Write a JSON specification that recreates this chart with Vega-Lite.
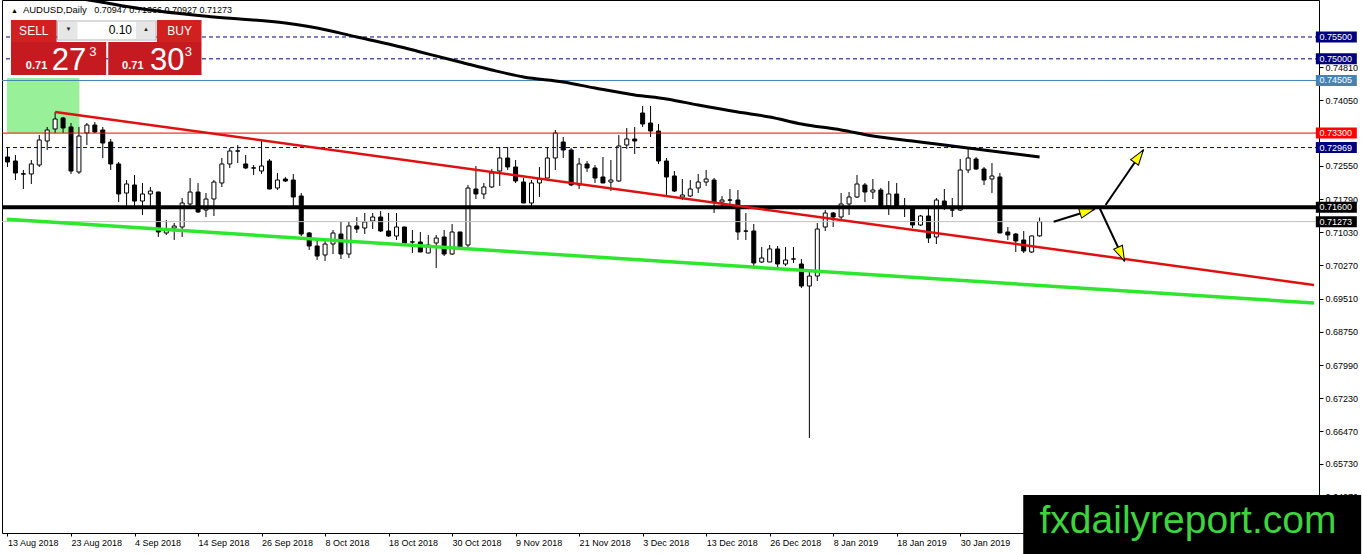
{
"$schema":"https://vega.github.io/schema/vega-lite/v6.json",
"width":1317,"height":533,
"autosize":{"type":"none"},
"padding":{"left":2,"top":0,"right":43,"bottom":21},
"background":"#ffffff",
"config":{"view":{"stroke":"#000000","strokeWidth":1},"font":"Liberation Sans","axis":{"titleOpacity":0,"grid":false}},
"datasets":{
"candles":[
{"i":0,"o":0.72753,"h":0.72982,"l":0.72524,"c":0.72638},
{"i":1,"o":0.72661,"h":0.72799,"l":0.72226,"c":0.72386},
{"i":2,"o":0.72370,"h":0.72455,"l":0.72020,"c":0.72360},
{"i":3,"o":0.72364,"h":0.72684,"l":0.72135,"c":0.72593},
{"i":4,"o":0.72570,"h":0.73256,"l":0.72524,"c":0.73142},
{"i":5,"o":0.73119,"h":0.73440,"l":0.72913,"c":0.73371},
{"i":6,"o":0.73394,"h":0.73783,"l":0.73302,"c":0.73623},
{"i":7,"o":0.73646,"h":0.73669,"l":0.73302,"c":0.73417},
{"i":8,"o":0.73440,"h":0.73531,"l":0.72364,"c":0.72432},
{"i":9,"o":0.72409,"h":0.73440,"l":0.72364,"c":0.73233},
{"i":10,"o":0.73302,"h":0.73531,"l":0.73027,"c":0.73485},
{"i":11,"o":0.73485,"h":0.73554,"l":0.73302,"c":0.73325},
{"i":12,"o":0.73371,"h":0.73440,"l":0.72730,"c":0.73073},
{"i":13,"o":0.73096,"h":0.73165,"l":0.72455,"c":0.72593},
{"i":14,"o":0.72593,"h":0.72638,"l":0.71722,"c":0.71906},
{"i":15,"o":0.71928,"h":0.72226,"l":0.71631,"c":0.72135},
{"i":16,"o":0.72112,"h":0.72341,"l":0.71608,"c":0.71745},
{"i":17,"o":0.71745,"h":0.72158,"l":0.71425,"c":0.71906},
{"i":18,"o":0.71906,"h":0.72066,"l":0.71608,"c":0.71974},
{"i":19,"o":0.71951,"h":0.71960,"l":0.70921,"c":0.71036},
{"i":20,"o":0.71013,"h":0.71310,"l":0.70967,"c":0.71082},
{"i":21,"o":0.71127,"h":0.71242,"l":0.70853,"c":0.71173},
{"i":22,"o":0.71150,"h":0.71814,"l":0.70921,"c":0.71700},
{"i":23,"o":0.71677,"h":0.72272,"l":0.71608,"c":0.71951},
{"i":24,"o":0.71951,"h":0.72158,"l":0.71471,"c":0.71494},
{"i":25,"o":0.71539,"h":0.71928,"l":0.71379,"c":0.71791},
{"i":26,"o":0.71791,"h":0.72226,"l":0.71402,"c":0.72180},
{"i":27,"o":0.72158,"h":0.72730,"l":0.72066,"c":0.72593},
{"i":28,"o":0.72593,"h":0.72959,"l":0.72501,"c":0.72890},
{"i":29,"o":0.72885,"h":0.73027,"l":0.72615,"c":0.72895},
{"i":30,"o":0.72593,"h":0.72799,"l":0.72478,"c":0.72501},
{"i":31,"o":0.72505,"h":0.72570,"l":0.72341,"c":0.72498},
{"i":32,"o":0.72432,"h":0.73142,"l":0.72364,"c":0.72547},
{"i":33,"o":0.72661,"h":0.72707,"l":0.72015,"c":0.72020},
{"i":34,"o":0.72043,"h":0.72387,"l":0.71997,"c":0.72226},
{"i":35,"o":0.72249,"h":0.72295,"l":0.72180,"c":0.72203},
{"i":36,"o":0.72226,"h":0.72364,"l":0.71631,"c":0.71837},
{"i":37,"o":0.71860,"h":0.71928,"l":0.70944,"c":0.70990},
{"i":38,"o":0.71013,"h":0.71036,"l":0.70624,"c":0.70715},
{"i":39,"o":0.70715,"h":0.70876,"l":0.70395,"c":0.70486},
{"i":40,"o":0.70509,"h":0.70853,"l":0.70372,"c":0.70761},
{"i":41,"o":0.70761,"h":0.71082,"l":0.70532,"c":0.71013},
{"i":42,"o":0.70990,"h":0.71265,"l":0.70418,"c":0.70532},
{"i":43,"o":0.70532,"h":0.71265,"l":0.70441,"c":0.71173},
{"i":44,"o":0.71173,"h":0.71379,"l":0.71013,"c":0.71104},
{"i":45,"o":0.71127,"h":0.71471,"l":0.70990,"c":0.71265},
{"i":46,"o":0.71288,"h":0.71471,"l":0.71104,"c":0.71379},
{"i":47,"o":0.71379,"h":0.71517,"l":0.71036,"c":0.71059},
{"i":48,"o":0.71059,"h":0.71471,"l":0.70921,"c":0.70944},
{"i":49,"o":0.70944,"h":0.71471,"l":0.70853,"c":0.71150},
{"i":50,"o":0.71150,"h":0.71155,"l":0.70761,"c":0.70784},
{"i":51,"o":0.70810,"h":0.71082,"l":0.70555,"c":0.70805},
{"i":52,"o":0.70807,"h":0.71036,"l":0.70575,"c":0.70578},
{"i":53,"o":0.70555,"h":0.70967,"l":0.70552,"c":0.70738},
{"i":54,"o":0.70784,"h":0.70967,"l":0.70211,"c":0.70898},
{"i":55,"o":0.70921,"h":0.71082,"l":0.70486,"c":0.70532},
{"i":56,"o":0.70532,"h":0.71219,"l":0.70509,"c":0.71036},
{"i":57,"o":0.71036,"h":0.71040,"l":0.70690,"c":0.70692},
{"i":58,"o":0.70738,"h":0.72112,"l":0.70692,"c":0.72043},
{"i":59,"o":0.72020,"h":0.72547,"l":0.71791,"c":0.71906},
{"i":60,"o":0.71906,"h":0.72158,"l":0.71791,"c":0.72066},
{"i":61,"o":0.72066,"h":0.72478,"l":0.72043,"c":0.72386},
{"i":62,"o":0.72432,"h":0.72982,"l":0.72089,"c":0.72730},
{"i":63,"o":0.72730,"h":0.72982,"l":0.72455,"c":0.72524},
{"i":64,"o":0.72524,"h":0.72684,"l":0.72158,"c":0.72203},
{"i":65,"o":0.72180,"h":0.72272,"l":0.71697,"c":0.71700},
{"i":66,"o":0.71700,"h":0.72226,"l":0.71631,"c":0.72158},
{"i":67,"o":0.72158,"h":0.72524,"l":0.71837,"c":0.72249},
{"i":68,"o":0.72272,"h":0.72959,"l":0.72268,"c":0.72730},
{"i":69,"o":0.72730,"h":0.73371,"l":0.72455,"c":0.73302},
{"i":70,"o":0.73096,"h":0.73211,"l":0.72730,"c":0.72913},
{"i":71,"o":0.72913,"h":0.72959,"l":0.72089,"c":0.72112},
{"i":72,"o":0.72112,"h":0.72730,"l":0.72020,"c":0.72593},
{"i":73,"o":0.72593,"h":0.72661,"l":0.72409,"c":0.72501},
{"i":74,"o":0.72501,"h":0.72570,"l":0.72158,"c":0.72272},
{"i":75,"o":0.72295,"h":0.72753,"l":0.72155,"c":0.72158},
{"i":76,"o":0.72180,"h":0.72684,"l":0.71974,"c":0.72226},
{"i":77,"o":0.72203,"h":0.73256,"l":0.72180,"c":0.73005},
{"i":78,"o":0.73027,"h":0.73417,"l":0.72936,"c":0.73165},
{"i":79,"o":0.73165,"h":0.73440,"l":0.72821,"c":0.73119},
{"i":80,"o":0.73760,"h":0.73920,"l":0.73440,"c":0.73508},
{"i":81,"o":0.73531,"h":0.73920,"l":0.73211,"c":0.73348},
{"i":82,"o":0.73348,"h":0.73508,"l":0.72593,"c":0.72661},
{"i":83,"o":0.72661,"h":0.72730,"l":0.71883,"c":0.72295},
{"i":84,"o":0.72318,"h":0.72432,"l":0.71951,"c":0.71974},
{"i":85,"o":0.71837,"h":0.72249,"l":0.71768,"c":0.71883},
{"i":86,"o":0.71860,"h":0.72226,"l":0.71837,"c":0.72020},
{"i":87,"o":0.72043,"h":0.72364,"l":0.71928,"c":0.72180},
{"i":88,"o":0.72180,"h":0.72455,"l":0.72089,"c":0.72249},
{"i":89,"o":0.72226,"h":0.72272,"l":0.71471,"c":0.71722},
{"i":90,"o":0.71722,"h":0.71860,"l":0.71631,"c":0.71768},
{"i":91,"o":0.71770,"h":0.72020,"l":0.71654,"c":0.71765},
{"i":92,"o":0.71768,"h":0.71997,"l":0.70853,"c":0.71036},
{"i":93,"o":0.71060,"h":0.71471,"l":0.70853,"c":0.71055},
{"i":94,"o":0.71059,"h":0.71219,"l":0.70257,"c":0.70326},
{"i":95,"o":0.70349,"h":0.70692,"l":0.70326,"c":0.70441},
{"i":96,"o":0.70349,"h":0.70738,"l":0.70345,"c":0.70647},
{"i":97,"o":0.70647,"h":0.70715,"l":0.70234,"c":0.70303},
{"i":98,"o":0.70303,"h":0.70692,"l":0.70257,"c":0.70395},
{"i":99,"o":0.70420,"h":0.70692,"l":0.70326,"c":0.70415},
{"i":100,"o":0.70303,"h":0.70418,"l":0.69753,"c":0.69799},
{"i":101,"o":0.69799,"h":0.70142,"l":0.66320,"c":0.70028},
{"i":102,"o":0.70028,"h":0.71242,"l":0.69914,"c":0.71104},
{"i":103,"o":0.71150,"h":0.71539,"l":0.71059,"c":0.71471},
{"i":104,"o":0.71471,"h":0.71494,"l":0.71150,"c":0.71379},
{"i":105,"o":0.71379,"h":0.71928,"l":0.71334,"c":0.71677},
{"i":106,"o":0.71677,"h":0.71951,"l":0.71425,"c":0.71837},
{"i":107,"o":0.71837,"h":0.72341,"l":0.71814,"c":0.72135},
{"i":108,"o":0.72112,"h":0.72158,"l":0.71722,"c":0.71951},
{"i":109,"o":0.71951,"h":0.72249,"l":0.71791,"c":0.71997},
{"i":110,"o":0.71997,"h":0.72043,"l":0.71608,"c":0.71631},
{"i":111,"o":0.71631,"h":0.72203,"l":0.71425,"c":0.71906},
{"i":112,"o":0.71906,"h":0.72158,"l":0.71605,"c":0.71608},
{"i":113,"o":0.71631,"h":0.71814,"l":0.71379,"c":0.71608},
{"i":114,"o":0.71608,"h":0.71631,"l":0.71127,"c":0.71196},
{"i":115,"o":0.71196,"h":0.71425,"l":0.71173,"c":0.71402},
{"i":116,"o":0.71402,"h":0.71631,"l":0.70784,"c":0.70898},
{"i":117,"o":0.70921,"h":0.71814,"l":0.70761,"c":0.71768},
{"i":118,"o":0.71745,"h":0.72020,"l":0.71539,"c":0.71608},
{"i":119,"o":0.71542,"h":0.71814,"l":0.71379,"c":0.71537},
{"i":120,"o":0.71539,"h":0.72707,"l":0.71517,"c":0.72455},
{"i":121,"o":0.72455,"h":0.72936,"l":0.72386,"c":0.72730},
{"i":122,"o":0.72707,"h":0.72753,"l":0.72455,"c":0.72478},
{"i":123,"o":0.72478,"h":0.72524,"l":0.72112,"c":0.72226},
{"i":124,"o":0.72249,"h":0.72615,"l":0.71928,"c":0.72318},
{"i":125,"o":0.72295,"h":0.72386,"l":0.71010,"c":0.71013},
{"i":126,"o":0.71036,"h":0.71150,"l":0.70853,"c":0.70967},
{"i":127,"o":0.70990,"h":0.71013,"l":0.70578,"c":0.70830},
{"i":128,"o":0.70853,"h":0.71059,"l":0.70555,"c":0.70601},
{"i":129,"o":0.70578,"h":0.70950,"l":0.70555,"c":0.70945},
{"i":130,"o":0.70947,"h":0.71366,"l":0.70927,"c":0.71273}
],
"ma":[
{"i":0,"v":0.76645},{"i":11,"v":0.76324},{"i":17,"v":0.76141},{"i":26,"v":0.75958},{"i":35,"v":0.75820},{"i":39,"v":0.75706},{"i":44,"v":0.75500},{"i":48,"v":0.75340},{"i":52,"v":0.75157},{"i":57,"v":0.74928},{"i":61,"v":0.74744},{"i":65,"v":0.74584},{"i":70,"v":0.74470},{"i":74,"v":0.74332},{"i":79,"v":0.74172},{"i":83,"v":0.74081},{"i":87,"v":0.73943},{"i":92,"v":0.73783},{"i":96,"v":0.73668},{"i":100,"v":0.73508},{"i":105,"v":0.73371},{"i":109,"v":0.73234},{"i":114,"v":0.73119},{"i":118,"v":0.73027},{"i":122,"v":0.72936},{"i":126,"v":0.72844},{"i":130,"v":0.72753}
],
"redtrend":[{"i":6,"v":0.73783},{"i":164.5625,"v":0.69822}],
"greentrend":[{"i":-0.0625,"v":0.71326},{"i":164.5625,"v":0.69410}],
"levels":[
{"p":0.755,"label":"0.75500","kind":"dash"},
{"p":0.75,"label":"0.75000","kind":"dash"},
{"p":0.74505,"label":"0.74505","kind":"blue"},
{"p":0.733,"label":"0.73300","kind":"red"},
{"p":0.72969,"label":"0.72969","kind":"dash"},
{"p":0.716,"label":"0.71600","kind":"black"},
{"p":0.71273,"label":"0.71273","kind":"price"}
],
"arrows":[
{"i1":131.77,"p1":0.71271,"i2":136.94,"p2":0.71562},
{"i1":138.31,"p1":0.71654,"i2":143.06,"p2":0.72913},
{"i1":137.56,"p1":0.71585,"i2":140.69,"p2":0.70372}
]
},
"layer":[
{"data":{"values":[{}]},"mark":{"type":"rect","fill":"#98f098","opacity":1},
 "encoding":{
  "x":{"datum":-0.0625,"type":"quantitative","scale":{"domain":[-0.0625,164.5625],"nice":false,"zero":false},
   "axis":{"values":[0,8,16,24,32,40,48,56,64,72,80,88,96,104,112,120],"labelExpr":"['13 Aug 2018','23 Aug 2018','4 Sep 2018','14 Sep 2018','26 Sep 2018','8 Oct 2018','18 Oct 2018','30 Oct 2018','9 Nov 2018','21 Nov 2018','3 Dec 2018','13 Dec 2018','26 Dec 2018','8 Jan 2019','18 Jan 2019','30 Jan 2019'][datum.value/8]","title":" ","grid":false,"domain":false,"ticks":true,"tickSize":3,"tickColor":"#000000","labelAlign":"left","labelBaseline":"top","labelPadding":2,"labelFont":"Liberation Sans","labelFontSize":9,"labelColor":"#000000","labelOverlap":false,"labelFlush":false,"labelBound":false}},
  "x2":{"datum":9.05},
  "y":{"datum":0.74562,"type":"quantitative","scale":{"domain":[0.64145,0.76347],"nice":false,"zero":false},
   "axis":{"orient":"right","values":[0.7481,0.7405,0.7255,0.7179,0.7103,0.7027,0.6951,0.6875,0.6799,0.6723,0.6647,0.6573,0.6497],"format":".5f","title":" ","grid":false,"domain":false,"tickSize":4,"tickColor":"#000000","labelPadding":2,"labelFont":"Liberation Sans","labelFontSize":9,"labelColor":"#000000","labelOverlap":false,"labelFlush":false,"labelBound":false}},
  "y2":{"datum":0.733}}},
{"data":{"values":[{}]},"mark":{"type":"text","text":"▲","fontSize":7,"align":"center","baseline":"middle","fill":"#000000"},
 "encoding":{"x":{"datum":0.875,"type":"quantitative"},"y":{"datum":0.76095,"type":"quantitative"}}},
{"data":{"values":[{}]},"mark":{"type":"text","text":"AUDUSD,Daily","fontSize":9.5,"align":"left","baseline":"middle","fill":"#000000"},
 "encoding":{"x":{"datum":1.9375,"type":"quantitative"},"y":{"datum":0.76118,"type":"quantitative"}}},
{"data":{"values":[{}]},"mark":{"type":"text","text":"0.70947 0.71366 0.70927 0.71273","fontSize":9,"align":"left","baseline":"middle","fill":"#000000"},
 "encoding":{"x":{"datum":10.9375,"type":"quantitative"},"y":{"datum":0.76118,"type":"quantitative"}}},
{"data":{"name":"candles"},"mark":{"type":"rule","color":"#000000","strokeWidth":1},
 "encoding":{"x":{"field":"i","type":"quantitative"},"y":{"field":"l","type":"quantitative"},"y2":{"field":"h"}}},
{"data":{"name":"candles"},"mark":{"type":"bar","width":4,"stroke":"#000000","strokeWidth":1,"opacity":1},
 "encoding":{"x":{"field":"i","type":"quantitative"},"y":{"field":"o","type":"quantitative"},"y2":{"field":"c"},
  "fill":{"condition":{"test":"datum.c >= datum.o","value":"#ffffff"},"value":"#000000"}}},
{"data":{"name":"levels"},"mark":{"type":"rule","strokeWidth":1},
 "encoding":{"y":{"field":"p","type":"quantitative"},
  "stroke":{"field":"kind","type":"nominal","scale":{"domain":["dash","blue","red","black","price"],"range":["#000080","#4682b4","#ff0000","#000000","#c0c0c0"]},"legend":null},
  "strokeDash":{"field":"kind","type":"nominal","scale":{"domain":["dash","blue","red","black","price"],"range":[[4,3],[1,0],[1,0],[1,0],[1,0]]},"legend":null}}},
{"data":{"values":[{}]},"mark":{"type":"rule","color":"#000000","strokeWidth":4},
 "encoding":{"y":{"datum":0.716,"type":"quantitative"}}},
{"data":{"name":"ma"},"mark":{"type":"line","color":"#000000","strokeWidth":3,"interpolate":"monotone","clip":true},
 "encoding":{"x":{"field":"i","type":"quantitative"},"y":{"field":"v","type":"quantitative"}}},
{"data":{"name":"redtrend"},"mark":{"type":"line","color":"#e01010","strokeWidth":2.5},
 "encoding":{"x":{"field":"i","type":"quantitative"},"y":{"field":"v","type":"quantitative"}}},
{"data":{"name":"greentrend"},"mark":{"type":"line","color":"#2ee62e","strokeWidth":3.5},
 "encoding":{"x":{"field":"i","type":"quantitative"},"y":{"field":"v","type":"quantitative"}}},
{"data":{"name":"arrows"},"mark":{"type":"rule","color":"#000000","strokeWidth":2},
 "encoding":{"x":{"field":"i1","type":"quantitative"},"y":{"field":"p1","type":"quantitative"},"x2":{"field":"i2"},"y2":{"field":"p2"}}},
{"data":{"values":[{}]},"mark":{"type":"point","shape":"M0,0L0.6,1.9L-0.6,1.9Z","size":256,"filled":true,"fill":"#ffff00","stroke":"#000000","strokeWidth":1,"opacity":1,"angle":73},
 "encoding":{"x":{"datum":136.94,"type":"quantitative"},"y":{"datum":0.71562,"type":"quantitative"}}},
{"data":{"values":[{}]},"mark":{"type":"point","shape":"M0,0L0.6,1.9L-0.6,1.9Z","size":256,"filled":true,"fill":"#ffff00","stroke":"#000000","strokeWidth":1,"opacity":1,"angle":35},
 "encoding":{"x":{"datum":143.06,"type":"quantitative"},"y":{"datum":0.72913,"type":"quantitative"}}},
{"data":{"values":[{}]},"mark":{"type":"point","shape":"M0,0L0.6,1.9L-0.6,1.9Z","size":256,"filled":true,"fill":"#ffff00","stroke":"#000000","strokeWidth":1,"opacity":1,"angle":155},
 "encoding":{"x":{"datum":140.69,"type":"quantitative"},"y":{"datum":0.70372,"type":"quantitative"}}},
{"data":{"name":"levels"},"mark":{"type":"tick","orient":"horizontal","thickness":11,"opacity":1},
 "encoding":{"x":{"datum":167.375,"type":"quantitative"},"y":{"field":"p","type":"quantitative"},"size":{"value":41},
  "fill":{"field":"kind","type":"nominal","scale":{"domain":["dash","blue","red","black","price"],"range":["#000080","#4682b4","#ff0000","#000000","#000000"]},"legend":null}}},
{"data":{"name":"levels"},"mark":{"type":"text","align":"left","baseline":"middle","fontSize":9,"fill":"#ffffff"},
 "encoding":{"x":{"datum":165.25,"type":"quantitative"},"y":{"field":"p","type":"quantitative"},"text":{"field":"label"}}},
{"data":{"values":[{}]},"mark":{"type":"rect","fill":"#000000","opacity":1},
 "encoding":{"x":{"datum":127.94,"type":"quantitative"},"x2":{"datum":170.5},"y":{"datum":0.65015,"type":"quantitative"},"y2":{"datum":0.630}}},
{"data":{"values":[{}]},"mark":{"type":"text","text":"fxdailyreport.com","fontSize":39,"align":"center","baseline":"alphabetic","fill":"#3dd43d"},
 "encoding":{"x":{"datum":148.69,"type":"quantitative"},"y":{"datum":0.64145,"type":"quantitative"}}},
{"data":{"values":[{}]},"mark":{"type":"rect","fill":"#d02020","opacity":1},
 "encoding":{"x":{"datum":0.4375,"type":"quantitative"},"x2":{"datum":6.1875},"y":{"datum":0.75889,"type":"quantitative"},"y2":{"datum":0.75386}}},
{"data":{"values":[{}]},"mark":{"type":"rect","fill":"#d02020","opacity":1},
 "encoding":{"x":{"datum":18.8125,"type":"quantitative"},"x2":{"datum":24.4375},"y":{"datum":0.75889,"type":"quantitative"},"y2":{"datum":0.75386}}},
{"data":{"values":[{}]},"mark":{"type":"rect","fill":"#c51a1f","opacity":1},
 "encoding":{"x":{"datum":0.4375,"type":"quantitative"},"x2":{"datum":12.4375},"y":{"datum":0.75386,"type":"quantitative"},"y2":{"datum":0.7463}}},
{"data":{"values":[{}]},"mark":{"type":"rect","fill":"#c51a1f","opacity":1},
 "encoding":{"x":{"datum":12.6875,"type":"quantitative"},"x2":{"datum":24.4375},"y":{"datum":0.75386,"type":"quantitative"},"y2":{"datum":0.7463}}},
{"data":{"values":[{}]},"mark":{"type":"rect","fill":"#ffffff","stroke":"#b4b4b4","strokeWidth":1,"opacity":1},
 "encoding":{"x":{"datum":6.3125,"type":"quantitative"},"x2":{"datum":18.6875},"y":{"datum":0.75866,"type":"quantitative"},"y2":{"datum":0.75431}}},
{"data":{"values":[{}]},"mark":{"type":"rect","fill":"#e6e6e6","opacity":1},
 "encoding":{"x":{"datum":6.5,"type":"quantitative"},"x2":{"datum":8.8125},"y":{"datum":0.75843,"type":"quantitative"},"y2":{"datum":0.75454}}},
{"data":{"values":[{}]},"mark":{"type":"rect","fill":"#e6e6e6","opacity":1},
 "encoding":{"x":{"datum":16.1875,"type":"quantitative"},"x2":{"datum":18.5625},"y":{"datum":0.75843,"type":"quantitative"},"y2":{"datum":0.75454}}},
{"data":{"values":[{}]},"mark":{"type":"text","text":"SELL","fontSize":12,"align":"center","baseline":"middle","fill":"#ffffff"},
 "encoding":{"x":{"datum":3.3125,"type":"quantitative"},"y":{"datum":0.75637,"type":"quantitative"}}},
{"data":{"values":[{}]},"mark":{"type":"text","text":"BUY","fontSize":12,"align":"center","baseline":"middle","fill":"#ffffff"},
 "encoding":{"x":{"datum":21.6875,"type":"quantitative"},"y":{"datum":0.75637,"type":"quantitative"}}},
{"data":{"values":[{}]},"mark":{"type":"text","text":"0.10","fontSize":12,"align":"right","baseline":"middle","fill":"#000000"},
 "encoding":{"x":{"datum":15.6875,"type":"quantitative"},"y":{"datum":0.7566,"type":"quantitative"}}},
{"data":{"values":[{}]},"mark":{"type":"text","text":"▼","fontSize":6,"align":"center","baseline":"middle","fill":"#222222"},
 "encoding":{"x":{"datum":7.6875,"type":"quantitative"},"y":{"datum":0.75683,"type":"quantitative"}}},
{"data":{"values":[{}]},"mark":{"type":"text","text":"▲","fontSize":6,"align":"center","baseline":"middle","fill":"#222222"},
 "encoding":{"x":{"datum":17.4375,"type":"quantitative"},"y":{"datum":0.75683,"type":"quantitative"}}},
{"data":{"values":[{}]},"mark":{"type":"text","text":"0.71","fontSize":11,"fontWeight":"bold","align":"left","baseline":"alphabetic","fill":"#ffffff"},
 "encoding":{"x":{"datum":2.3125,"type":"quantitative"},"y":{"datum":0.74767,"type":"quantitative"}}},
{"data":{"values":[{}]},"mark":{"type":"text","text":"27","fontSize":31,"align":"left","baseline":"alphabetic","fill":"#ffffff"},
 "encoding":{"x":{"datum":5.5625,"type":"quantitative"},"y":{"datum":0.74744,"type":"quantitative"}}},
{"data":{"values":[{}]},"mark":{"type":"text","text":"3","fontSize":13,"align":"left","baseline":"alphabetic","fill":"#ffffff"},
 "encoding":{"x":{"datum":10.3125,"type":"quantitative"},"y":{"datum":0.75065,"type":"quantitative"}}},
{"data":{"values":[{}]},"mark":{"type":"text","text":"0.71","fontSize":11,"fontWeight":"bold","align":"left","baseline":"alphabetic","fill":"#ffffff"},
 "encoding":{"x":{"datum":14.4375,"type":"quantitative"},"y":{"datum":0.74767,"type":"quantitative"}}},
{"data":{"values":[{}]},"mark":{"type":"text","text":"30","fontSize":31,"align":"left","baseline":"alphabetic","fill":"#ffffff"},
 "encoding":{"x":{"datum":17.9375,"type":"quantitative"},"y":{"datum":0.74744,"type":"quantitative"}}},
{"data":{"values":[{}]},"mark":{"type":"text","text":"3","fontSize":13,"align":"left","baseline":"alphabetic","fill":"#ffffff"},
 "encoding":{"x":{"datum":22.3125,"type":"quantitative"},"y":{"datum":0.75065,"type":"quantitative"}}}
]
}
